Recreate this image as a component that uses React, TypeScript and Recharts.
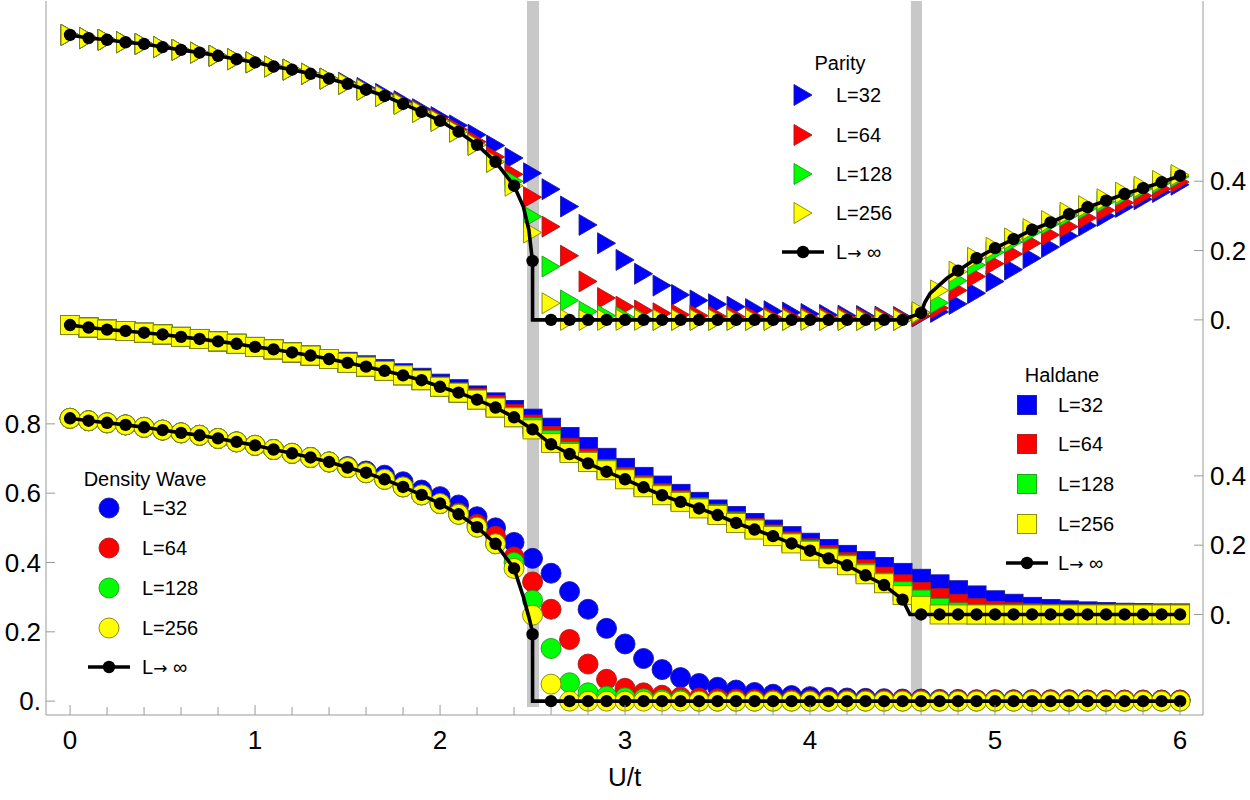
import React from 'react';
import { ComposedChart, Scatter, XAxis, YAxis, ReferenceArea } from 'recharts';

// U/t grid of the finite-size data (step 0.1)
const uValues = [
  0, 0.1, 0.2, 0.3, 0.4, 0.5, 0.6, 0.7, 0.8, 0.9,
  1, 1.1, 1.2, 1.3, 1.4, 1.5, 1.6, 1.7, 1.8, 1.9,
  2, 2.1, 2.2, 2.3, 2.4, 2.5, 2.6, 2.7, 2.8, 2.9,
  3, 3.1, 3.2, 3.3, 3.4, 3.5, 3.6, 3.7, 3.8, 3.9,
  4, 4.1, 4.2, 4.3, 4.4, 4.5, 4.6, 4.7, 4.8, 4.9,
  5, 5.1, 5.2, 5.3, 5.4, 5.5, 5.6, 5.7, 5.8, 5.9, 6,
];

const uTicks = [0, 0.2, 0.4, 0.6, 0.8, 1, 1.2, 1.4, 1.6, 1.8, 2, 2.2, 2.4, 2.6, 2.8, 3, 3.2, 3.4, 3.6, 3.8, 4, 4.2, 4.4, 4.6, 4.8, 5, 5.2, 5.4, 5.6, 5.8, 6];
const dwTicks = [0, 0.2, 0.4, 0.6, 0.8];
const haldaneTicks = [0, 0.2, 0.4];
const parityTicks = [0, 0.2, 0.4];

// transition regions (grey bands)
const transitions = [
  [2.47, 2.535],
  [4.545, 4.605],
];

// ---------- Parity ----------
const parityInf = [
  0.822, 0.813, 0.808, 0.801, 0.796, 0.787, 0.779, 0.771, 0.762, 0.752,
  0.743, 0.731, 0.722, 0.710, 0.696, 0.681, 0.664, 0.646, 0.623, 0.600,
  0.574, 0.543, 0.505, 0.456, 0.387, 0.170, 0, 0, 0, 0,
  0, 0, 0, 0, 0, 0, 0, 0, 0, 0,
  0, 0, 0, 0, 0, 0, 0.020, null, 0.142, 0.178,
  0.207, 0.233, 0.260, 0.281, 0.305, 0.325, 0.344, 0.363, 0.380, 0.397, 0.416,
];
const parityInfCurve = [[2.45, 0.327], [2.48, 0.26], [2.495, 0.19], [2.5, 0], [4.62, 0.05], [4.65, 0.077], [4.7, 0.101], [4.74, 0.12]];

const parity256 = [
  ...parityInf.slice(0, 25),
  0.252, 0.048, 0, 0, 0,
  0, 0, 0, 0, 0, 0, 0, 0, 0, 0,
  0, 0, 0, 0, 0, 0, 0.022, 0.085, 0.139, 0.179,
  0.208, 0.235, 0.262, 0.285, 0.309, 0.328, 0.348, 0.367, 0.384, 0.401, 0.418,
];
const parity128 = [
  ...parityInf.slice(0, 24),
  0.400, 0.298, 0.154, 0.056, 0.024, 0.012,
  0.008, 0.003, 0, 0, 0, 0, 0, 0, 0, 0,
  0, 0, 0, 0, 0, 0, 0.020, 0.049, 0.113, 0.158,
  0.195, 0.225, 0.253, 0.277, 0.301, 0.321, 0.341, 0.360, 0.378, 0.395, 0.413,
];
const parity64 = [
  ...parityInf.slice(0, 18),
  0.626, 0.603,
  0.578, 0.549, 0.514, 0.470, 0.420, 0.354, 0.269, 0.185, 0.111, 0.063,
  0.038, 0.027, 0.019, 0.015, 0.012, 0.010, 0.009, 0.008, 0.007, 0.007,
  0.006, 0.006, 0.006, 0.006, 0.006, 0.006, 0.012, 0.034, 0.085, 0.125,
  0.162, 0.190, 0.221, 0.245, 0.269, 0.294, 0.316, 0.338, 0.358, 0.378, 0.398,
];
const parity32 = [
  ...parityInf.slice(0, 15),
  0.684, 0.669, 0.652, 0.631, 0.608,
  0.585, 0.561, 0.534, 0.503, 0.467, 0.423, 0.377, 0.327, 0.274, 0.221,
  0.173, 0.133, 0.099, 0.072, 0.056, 0.045, 0.038, 0.031, 0.025, 0.021,
  0.017, 0.014, 0.012, 0.011, 0.009, 0.008, 0.010, 0.023, 0.046, 0.077,
  0.111, 0.145, 0.178, 0.210, 0.242, 0.272, 0.300, 0.326, 0.348, 0.369, 0.390,
];

// ---------- Haldane ----------
const haldaneInf = [
  0.835, 0.828, 0.822, 0.818, 0.813, 0.808, 0.801, 0.795, 0.788, 0.781,
  0.772, 0.765, 0.756, 0.747, 0.737, 0.726, 0.715, 0.703, 0.690, 0.676,
  0.657, 0.640, 0.620, 0.597, 0.569, 0.534, 0.491, 0.463, 0.436, 0.412,
  0.390, 0.367, 0.344, 0.325, 0.306, 0.287, 0.264, 0.245, 0.226, 0.205,
  0.184, 0.162, 0.142, 0.113, 0.085, 0.043, 0, 0, 0, 0,
  0, 0, 0, 0, 0, 0, 0, 0, 0, 0, 0,
];
const haldaneInfCurve = [[4.54, 0]];

const haldane256 = [
  ...haldaneInf.slice(0, 26),
  0.495, 0.466, 0.440, 0.416,
  ...haldaneInf.slice(30, 43),
  0.116, 0.090, 0.056, 0.025,
  0, 0, 0,
  0, 0, 0, 0, 0, 0, 0, 0, 0, 0, 0,
];
const haldane128 = [
  ...haldaneInf.slice(0, 25),
  0.540, 0.503, 0.470, 0.442, 0.418,
  0.392, 0.369, 0.346, 0.327, 0.308, 0.289, 0.266, 0.247, 0.228, 0.207,
  0.186, 0.164, 0.144, 0.120, 0.092, 0.067, 0.043, 0.019, 0.006, 0,
  0, 0, 0, 0, 0, 0, 0, 0, 0, 0, 0,
];
const haldane64 = [
  ...haldaneInf.slice(0, 22),
  0.625, 0.604, 0.578, 0.548, 0.515, 0.481, 0.450, 0.420,
  0.397, 0.373, 0.350, 0.330, 0.310, 0.291, 0.270, 0.250, 0.231, 0.211,
  0.191, 0.171, 0.151, 0.130, 0.109, 0.087, 0.065, 0.047, 0.031, 0.018,
  0.010, 0.007, 0.004, 0.002, 0.002, 0.002, 0.002, 0.002, 0.002, 0.002, 0.002,
];
const haldane32 = [
  ...haldaneInf.slice(0, 15),
  0.729, 0.719, 0.708, 0.696, 0.683,
  0.666, 0.650, 0.632, 0.612, 0.590, 0.565, 0.539, 0.512, 0.483, 0.452,
  0.423, 0.397, 0.372, 0.348, 0.325, 0.303, 0.284, 0.264, 0.245, 0.226,
  0.207, 0.189, 0.172, 0.154, 0.137, 0.120, 0.103, 0.087, 0.070, 0.055,
  0.041, 0.031, 0.022, 0.016, 0.012, 0.009, 0.007, 0.005, 0.004, 0.003, 0.003,
];

// ---------- Density wave ----------
const dwInf = [
  0.816, 0.809, 0.803, 0.797, 0.790, 0.782, 0.774, 0.767, 0.758, 0.748,
  0.738, 0.726, 0.715, 0.703, 0.690, 0.674, 0.659, 0.640, 0.618, 0.595,
  0.570, 0.539, 0.502, 0.454, 0.383, 0.193, 0, 0, 0, 0,
  0, 0, 0, 0, 0, 0, 0, 0, 0, 0,
  0, 0, 0, 0, 0, 0, 0, 0, 0, 0,
  0, 0, 0, 0, 0, 0, 0, 0, 0, 0, 0,
];
const dwInfCurve = [[2.45, 0.301], [2.48, 0.243], [2.495, 0.21], [2.5, 0]];

const dw256 = [
  ...dwInf.slice(0, 25),
  0.248, 0.049, 0, 0, 0,
  ...dwInf.slice(30),
];
const dw128 = [
  ...dwInf.slice(0, 24),
  0.400, 0.291, 0.152, 0.053, 0.024, 0.014,
  0.010, 0.007, 0.004, 0.003, 0, 0, 0, 0, 0, 0,
  0, 0, 0, 0, 0, 0, 0, 0, 0, 0,
  0, 0, 0, 0, 0, 0, 0, 0, 0, 0, 0,
];
const dw64 = [
  ...dwInf.slice(0, 21),
  0.543, 0.510, 0.476, 0.416, 0.344, 0.265, 0.178, 0.107, 0.063,
  0.037, 0.024, 0.017, 0.012, 0.009, 0.007, 0.006, 0.005, 0.004, 0.004,
  0.003, 0.003, 0.003, 0.003, 0.003, 0.003, 0.003, 0.003, 0.003, 0.003,
  0.003, 0.003, 0.003, 0.003, 0.003, 0.003, 0.003, 0.003, 0.003, 0.003, 0.003,
];
const dw32 = [
  ...dwInf.slice(0, 15),
  0.677, 0.664, 0.652, 0.633, 0.609,
  0.590, 0.566, 0.532, 0.500, 0.458, 0.412, 0.369, 0.316, 0.265, 0.210,
  0.165, 0.123, 0.091, 0.068, 0.051, 0.040, 0.032, 0.025, 0.020, 0.016,
  0.013, 0.011, 0.009, 0.008, 0.007, 0.006, 0.006, 0.005, 0.005, 0.004,
  0.004, 0.004, 0.004, 0.004, 0.004, 0.003, 0.003, 0.003, 0.003, 0.003, 0.003,
];

// ---------- layout ----------
const FONT = '"Liberation Sans", Arial, Helvetica, sans-serif';
const FRAME = '#9a9a9a';
const X_DOMAIN = [-0.13, 6.124];
const PAR_DOMAIN = [-1.14, 0.92];
const HAL_SHIFT = 0.85;
const DW_SHIFT = 1.1;
const HAL_DOMAIN = [PAR_DOMAIN[0] + HAL_SHIFT, PAR_DOMAIN[1] + HAL_SHIFT];
const DW_DOMAIN = [PAR_DOMAIN[0] + DW_SHIFT, PAR_DOMAIN[1] + DW_SHIFT];
const rightTicks = [...parityTicks, ...haldaneTicks.map((t) => +(t - HAL_SHIFT).toFixed(3))];

const sizes = [
  { label: 'L=32', fill: '#0000ff', stroke: '#1c1c9a' },
  { label: 'L=64', fill: '#ff0000', stroke: '#a31c1c' },
  { label: 'L=128', fill: '#00ff00', stroke: '#1c9a1c' },
  { label: 'L=256', fill: '#ffff00', stroke: '#80800a' },
];

const toPoints = (vals: (number | null)[]) =>
  uValues
    .map((x, i) => ({ x, y: vals[i] }))
    .filter((p) => p.y !== null && p.y !== undefined) as { x: number; y: number }[];

const withCurve = (vals: (number | null)[], extra: number[][]) =>
  [...toPoints(vals), ...extra.map(([x, y]) => ({ x, y }))].sort((a, b) => a.x - b.x || b.y - a.y);

const fmt = (v: number) => (Math.abs(v) < 1e-9 ? '0.' : v.toFixed(1));

const Tri = ({ cx, cy, fill, stroke }: any) => (
  <polygon
    points={`${cx - 9},${cy - 10.5} ${cx + 9},${cy} ${cx - 9},${cy + 10.5}`}
    fill={fill}
    stroke={stroke}
    strokeWidth={0.9}
  />
);
const Sq = ({ cx, cy, fill, stroke }: any) => (
  <rect x={cx - 9.5} y={cy - 9.5} width={19} height={19} fill={fill} stroke={stroke} strokeWidth={0.9} />
);
const Circ = ({ cx, cy, fill, stroke }: any) => (
  <circle cx={cx} cy={cy} r={10} fill={fill} stroke={stroke} strokeWidth={0.9} />
);
const Dot = ({ cx, cy }: any) => <circle cx={cx} cy={cy} r={6.2} fill="#000" />;

const BottomTick = ({ x, y, payload }: any) => {
  const v = payload.value;
  const major = Math.abs(v - Math.round(v)) < 1e-6;
  return (
    <g>
      <line x1={x} x2={x} y1={y} y2={y - (major ? 10 : 8)} stroke={FRAME} />
      {major && (
        <text x={x} y={y + 34} textAnchor="middle" fontSize={26} fontFamily={FONT} fill="#000">
          {Math.round(v)}
        </text>
      )}
    </g>
  );
};
const LeftTick = ({ x, y, payload }: any) => (
  <g>
    <line x1={x} x2={x + 9} y1={y} y2={y} stroke={FRAME} />
    <text x={x - 5} y={y} dy="0.35em" textAnchor="end" fontSize={26} fontFamily={FONT} fill="#000">
      {fmt(payload.value)}
    </text>
  </g>
);
const RightTick = ({ x, y, payload }: any) => {
  const v = payload.value < -0.2 ? payload.value + HAL_SHIFT : payload.value;
  return (
    <g>
      <line x1={x - 9} x2={x} y1={y} y2={y} stroke={FRAME} />
      <text x={x + 7} y={y} dy="0.35em" textAnchor="start" fontSize={26} fontFamily={FONT} fill="#000">
        {fmt(v)}
      </text>
    </g>
  );
};

const panels = [
  { id: 'par', Marker: Tri, series: [parity32, parity64, parity128, parity256], inf: parityInf, curve: parityInfCurve },
  { id: 'hal', Marker: Sq, series: [haldane32, haldane64, haldane128, haldane256], inf: haldaneInf, curve: haldaneInfCurve },
  { id: 'dw', Marker: Circ, series: [dw32, dw64, dw128, dw256], inf: dwInf, curve: dwInfCurve },
];

const legends = [
  { title: 'Parity', titleX: 840, titleY: 63, markerX: 803, textX: 836, rows: [95, 135, 174, 213, 252], Marker: Tri },
  { title: 'Haldane', titleX: 1062, titleY: 375, markerX: 1027, textX: 1058, rows: [405, 444, 484, 524, 563], Marker: Sq },
  { title: 'Density Wave', titleX: 145, titleY: 479, markerX: 109, textX: 142, rows: [508, 548, 588, 628, 667], Marker: Circ },
];

export default function App() {
  return (
    <div style={{ position: 'absolute', left: 0, top: 0, width: 1250, height: 800, background: '#fff', fontFamily: FONT }}>
      <ComposedChart width={1250} height={800} margin={{ top: 1, right: 0, bottom: 0, left: 0 }}>
        <XAxis
          xAxisId="u"
          type="number"
          dataKey="x"
          domain={X_DOMAIN}
          allowDataOverflow
          ticks={uTicks}
          interval={0}
          tickSize={0}
          tickMargin={0}
          tickLine={false}
          tick={(p: any) => <BottomTick {...p} />}
          height={85}
          axisLine={{ stroke: FRAME }}
          label={{ value: 'U/t', position: 'insideBottom', offset: 14, fontSize: 26, fill: '#000', fontFamily: FONT }}
        />
        <XAxis
          xAxisId="top"
          orientation="top"
          type="number"
          domain={X_DOMAIN}
          allowDataOverflow
          height={0}
          tick={false}
          tickLine={false}
          axisLine={{ stroke: FRAME }}
        />
        <YAxis
          yAxisId="dw"
          orientation="left"
          type="number"
          dataKey="y"
          width={46}
          domain={DW_DOMAIN}
          allowDataOverflow
          ticks={dwTicks}
          interval={0}
          tickSize={0}
          tickMargin={0}
          tickLine={false}
          tick={(p: any) => <LeftTick {...p} />}
          axisLine={{ stroke: FRAME }}
        />
        <YAxis yAxisId="hal" type="number" dataKey="y" hide domain={HAL_DOMAIN} allowDataOverflow />
        <YAxis
          yAxisId="par"
          orientation="right"
          type="number"
          dataKey="y"
          width={47}
          domain={PAR_DOMAIN}
          allowDataOverflow
          ticks={rightTicks}
          interval={0}
          tickSize={0}
          tickMargin={0}
          tickLine={false}
          tick={(p: any) => <RightTick {...p} />}
          axisLine={{ stroke: FRAME }}
        />

        {transitions.map(([a, b], i) => (
          <ReferenceArea
            key={`band-${i}`}
            xAxisId="u"
            yAxisId="dw"
            x1={a}
            x2={b}
            y1={-0.017}
            y2={DW_DOMAIN[1]}
            fill="#c8c8c8"
            fillOpacity={1}
            stroke="none"
            ifOverflow="hidden"
          />
        ))}

        {panels.map((panel) => [
          ...panel.series.map((vals, k) => (
            <Scatter
              key={`${panel.id}-${k}`}
              xAxisId="u"
              yAxisId={panel.id}
              data={toPoints(vals)}
              isAnimationActive={false}
              shape={(p: any) => <panel.Marker cx={p.cx} cy={p.cy} fill={sizes[k].fill} stroke={sizes[k].stroke} />}
            />
          )),
          <Scatter
            key={`${panel.id}-curve`}
            xAxisId="u"
            yAxisId={panel.id}
            data={withCurve(panel.inf, panel.curve)}
            isAnimationActive={false}
            line={{ stroke: '#000', strokeWidth: 3.6 }}
            lineJointType="linear"
            shape={() => <g />}
          />,
          <Scatter
            key={`${panel.id}-inf`}
            xAxisId="u"
            yAxisId={panel.id}
            data={toPoints(panel.inf)}
            isAnimationActive={false}
            shape={(p: any) => <Dot cx={p.cx} cy={p.cy} />}
          />,
        ])}
      </ComposedChart>

      <svg width={1250} height={800} style={{ position: 'absolute', left: 0, top: 0, pointerEvents: 'none' }}>
        {legends.map((lg) => (
          <g key={lg.title} fontFamily={FONT} fill="#000">
            <text x={lg.titleX} y={lg.titleY} dy="0.35em" textAnchor="middle" fontSize={20}>
              {lg.title}
            </text>
            {sizes.map((s, k) => (
              <g key={s.label}>
                <lg.Marker cx={lg.markerX} cy={lg.rows[k]} fill={s.fill} stroke={s.stroke} />
                <text x={lg.textX} y={lg.rows[k]} dy="0.35em" fontSize={20}>
                  {s.label}
                </text>
              </g>
            ))}
            <line x1={lg.markerX - 21} x2={lg.markerX + 21} y1={lg.rows[4]} y2={lg.rows[4]} stroke="#000" strokeWidth={3.5} />
            <circle cx={lg.markerX} cy={lg.rows[4]} r={6.2} fill="#000" />
            <text x={lg.textX} y={lg.rows[4]} dy="0.35em" fontSize={20}>
              L<tspan fontFamily='"DejaVu Sans", sans-serif' fontSize={17}>→</tspan> ∞
            </text>
          </g>
        ))}
      </svg>
    </div>
  );
}
